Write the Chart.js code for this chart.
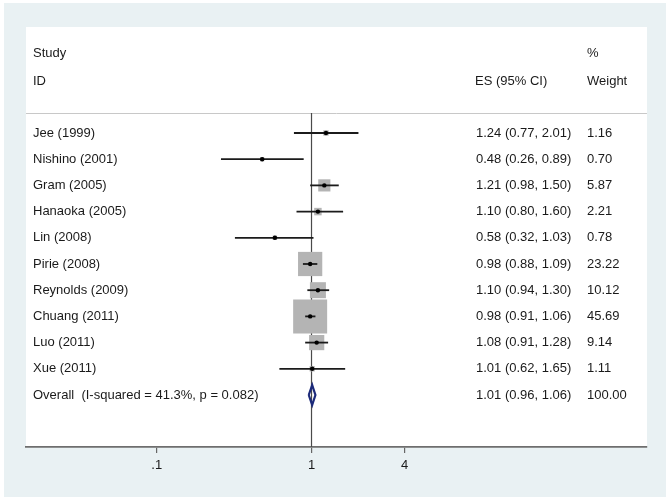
<!DOCTYPE html>
<html>
<head>
<meta charset="utf-8">
<script src="https://cdn.jsdelivr.net/npm/chart.js@4"></script>
<style>
  body { margin: 0; background: #fff; }
  canvas { display: block; }
</style>
</head>
<body>
<canvas id="forest" width="671" height="502"></canvas>
<script>
// study data
const studies = ["Jee (1999)", "Nishino (2001)", "Gram (2005)", "Hanaoka (2005)", "Lin (2008)",
  "Pirie (2008)", "Reynolds (2009)", "Chuang (2011)", "Luo (2011)", "Xue (2011)"];
const es = [1.24, 0.48, 1.21, 1.10, 0.58, 0.98, 1.10, 0.98, 1.08, 1.01];
const lower = [0.77, 0.26, 0.98, 0.80, 0.32, 0.88, 0.94, 0.91, 0.91, 0.62];
const upper = [2.01, 0.89, 1.50, 1.60, 1.03, 1.09, 1.30, 1.06, 1.28, 1.65];
const weights = [1.16, 0.70, 5.87, 2.21, 0.78, 23.22, 10.12, 45.69, 9.14, 1.11];

const overallLabel = "Overall  (I-squared = 41.3%, p = 0.082)";
const overallEs = 1.01;
const overallLower = 0.96;
const overallUpper = 1.06;
const overallWeight = 100.00;

const tickValues = [0.1, 1, 4];
const tickLabels = [".1", "1", "4"];

const FONT = "13px 'Liberation Sans', Arial, sans-serif";
const yMin = 0.237, yMax = 12.985;
const overallRow = studies.length + 1;

const datasets = [];

// null line at 1
datasets.push({
  type: "line",
  data: [{ x: 1, y: yMin }, { x: 1, y: yMax }],
  borderColor: "#4a4a4a",
  borderWidth: 1.2,
  pointRadius: 0,
  order: 4
});

// weight boxes
datasets.push({
  type: "scatter",
  data: es.map((v, i) => ({ x: v, y: i + 1 })),
  pointStyle: "rect",
  pointRadius: weights.map(w => 5.03 * Math.sqrt(w) / Math.SQRT2),
  backgroundColor: "#b4b4b4",
  borderWidth: 0,
  order: 3
});

// confidence intervals
studies.forEach((s, i) => {
  datasets.push({
    type: "line",
    data: [{ x: lower[i], y: i + 1 }, { x: upper[i], y: i + 1 }],
    borderColor: "#1b1b1b",
    borderWidth: 1.8,
    pointRadius: 0,
    order: 2
  });
});

// point estimates
datasets.push({
  type: "scatter",
  data: es.map((v, i) => ({ x: v, y: i + 1 })),
  pointStyle: "circle",
  pointRadius: 2.2,
  backgroundColor: "#000",
  borderWidth: 0,
  order: 1
});

// overall diamond
const h = 0.38;
datasets.push({
  type: "line",
  data: [
    { x: overallLower, y: overallRow },
    { x: overallEs, y: overallRow - h },
    { x: overallUpper, y: overallRow },
    { x: overallEs, y: overallRow + h },
    { x: overallLower, y: overallRow }
  ],
  borderColor: "#1c2a7a",
  borderWidth: 2.2,
  backgroundColor: "#fff",
  fill: true,
  pointRadius: 0,
  tension: 0,
  order: 0
});

const panelPlugin = {
  id: "panel",
  beforeDraw(chart) {
    const c = chart.ctx;
    const a = chart.chartArea;
    c.save();
    c.fillStyle = "#fff";
    c.fillRect(0, 0, chart.width, chart.height);
    c.fillStyle = "#e9f1f3";
    c.fillRect(4, 3, 662, 494);
    c.fillStyle = "#fff";
    c.fillRect(a.left, 27, a.right - a.left, a.bottom - 27);
    c.strokeStyle = "#c8c8c8";
    c.lineWidth = 1;
    c.beginPath();
    c.moveTo(a.left, a.top + 0.5);
    c.lineTo(a.right, a.top + 0.5);
    c.stroke();
    c.restore();
  },
  afterDraw(chart) {
    const c = chart.ctx;
    const y = chart.scales.y;
    c.save();
    c.font = FONT;
    c.fillStyle = "#1a1a1a";
    c.textBaseline = "middle";
    c.fillText("Study", 33, 53);
    c.fillText("ID", 33, 81);
    c.fillText("ES (95% CI)", 475, 81);
    c.fillText("%", 587, 53);
    c.fillText("Weight", 587, 81);
    studies.forEach((s, i) => {
      const py = y.getPixelForValue(i + 1);
      c.fillText(s, 33, py);
      c.fillText(`${es[i].toFixed(2)} (${lower[i].toFixed(2)}, ${upper[i].toFixed(2)})`, 476, py);
      c.fillText(weights[i].toFixed(2), 587, py);
    });
    const oy = y.getPixelForValue(overallRow);
    c.fillText(overallLabel, 33, oy);
    c.fillText(`${overallEs.toFixed(2)} (${overallLower.toFixed(2)}, ${overallUpper.toFixed(2)})`, 476, oy);
    c.fillText(overallWeight.toFixed(2), 587, oy);
    c.restore();
  }
};

new Chart(document.getElementById("forest"), {
  type: "scatter",
  data: { datasets },
  options: {
    responsive: false,
    animation: false,
    layout: { padding: { left: 26, right: 22, top: 113, bottom: 0 } },
    plugins: { legend: { display: false }, tooltip: { enabled: false } },
    scales: {
      x: {
        type: "logarithmic",
        position: "bottom",
        min: 0.0143,
        max: 147,
        afterBuildTicks: (scale) => { scale.ticks = tickValues.map(v => ({ value: v })); },
        afterFit: (scale) => { scale.height = 55; },
        ticks: {
          autoSkip: false,
          maxRotation: 0,
          padding: 5,
          color: "#1a1a1a",
          font: { family: "'Liberation Sans', Arial, sans-serif", size: 13 },
          callback: (v, i) => tickLabels[i]
        },
        grid: { drawOnChartArea: false, drawTicks: true, tickLength: 6, color: "#666", lineWidth: 1.2 },
        border: { display: true, color: "#6e6e6e", width: 1.8 }
      },
      y: {
        type: "linear",
        reverse: true,
        min: yMin,
        max: yMax,
        display: false
      }
    }
  },
  plugins: [panelPlugin]
});
</script>
</body>
</html>
